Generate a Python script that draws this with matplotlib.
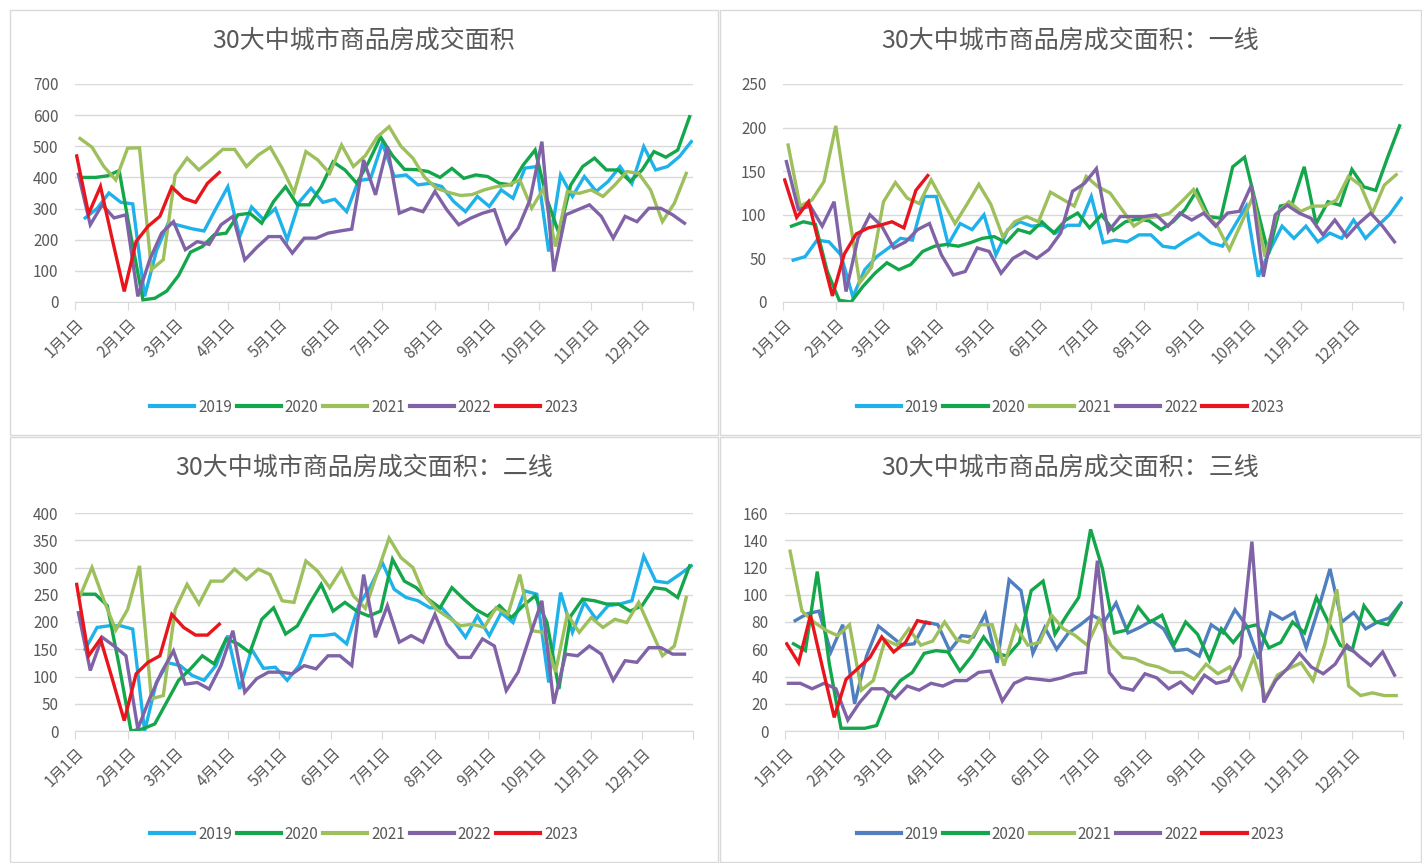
import matplotlib
matplotlib.use("Agg")
import matplotlib.pyplot as plt
from matplotlib.patches import Rectangle

plt.rcParams['font.family'] = ['Noto Sans CJK SC', 'DejaVu Sans']

years = ['2019', '2020', '2021', '2022', '2023']
# first weekly observation, day of year
start_day = [6, 5, 3, 2, 1]

month_days = [0, 31, 59, 90, 120, 151, 181, 212, 243, 273, 304, 334]
month_labels = ['1月1日', '2月1日', '3月1日', '4月1日', '5月1日', '6月1日',
                '7月1日', '8月1日', '9月1日', '10月1日', '11月1日', '12月1日']

titles = ['30大中城市商品房成交面积', '30大中城市商品房成交面积：一线',
          '30大中城市商品房成交面积：二线', '30大中城市商品房成交面积：三线']

# 全部
p1_2019 = [270, 300, 350, 320, 315, 18, 165, 255, 245, 235, 228, 300, 370, 210, 305, 265, 300, 200, 320, 365, 320, 330, 290, 390,
           395, 510, 403, 408, 376, 381, 371, 323, 290, 339, 307, 360, 333, 430, 435, 162, 408, 339, 403, 355, 387, 435, 380, 499, 424, 435, 467, 515]
p1_2020 = [400, 400, 405, 422, 210, 7, 12, 35, 85, 160, 178, 216, 221, 280, 285, 253, 323, 370, 312, 312, 370, 450, 424, 381,
           450, 530, 470, 426, 425, 419, 400, 429, 397, 408, 403, 381, 376, 440, 488, 330, 221, 376, 435, 462, 424, 424, 387, 424, 483, 465, 488, 595]
p1_2021 = [525, 497, 435, 392, 494, 495, 104, 136, 408, 462, 424, 456, 490, 490, 435, 472, 497, 430, 351, 483, 456, 413, 504, 435,
           470, 530, 563, 500, 462, 400, 365, 352, 342, 345, 360, 370, 375, 392, 301, 365, 178, 355, 349, 360, 339, 376, 419, 413, 360, 258, 317, 413]
p1_2022 = [410, 248, 312, 270, 280, 18, 136, 221, 258, 168, 194, 185, 248, 275, 135, 175, 210, 210, 157, 205, 205, 221, 228, 234, 456,
           344, 499, 285, 301, 290, 355, 296, 248, 269, 285, 296, 189, 237, 328, 515, 98, 280, 296, 312, 275, 205, 275, 258, 301, 301, 280, 253]
p1_2023 = [469, 283, 371, 200, 34, 194, 243, 275, 369, 333, 320, 381, 416]

# 一线
p2_2019 = [48, 52, 71, 69, 54, 6, 37, 52, 62, 73, 71, 121, 121, 66, 90, 83, 100, 54, 83, 92, 87, 88, 79, 88,
           88, 121, 68, 71, 69, 77, 77, 64, 62, 71, 79, 68, 64, 87, 110, 29, 60, 87, 73, 87, 69, 79, 73, 94, 73, 87, 100, 119]
p2_2020 = [87, 92, 89, 35, 2, 0, 18, 33, 45, 37, 43, 58, 64, 66, 64, 68, 73, 75, 68, 83, 79, 92, 79, 94,
           102, 85, 100, 82, 92, 95, 93, 83, 92, 106, 128, 98, 96, 155, 166, 110, 55, 110, 113, 155, 90, 115, 111, 152, 132, 128, 166, 202]
p2_2021 = [180, 110, 117, 138, 202, 110, 22, 40, 115, 137, 119, 113, 140, 115, 90, 112, 135, 112, 75, 92, 98, 92, 126, 118,
           110, 144, 132, 125, 106, 87, 96, 98, 102, 115, 129, 102, 87, 60, 90, 121, 52, 102, 115, 104, 110, 110, 117, 144, 134, 102, 134, 146]
p2_2022 = [161, 106, 110, 87, 115, 12, 73, 100, 87, 62, 69, 83, 90, 54, 31, 35, 62, 58, 33, 50, 58, 50, 60, 79,
           127, 136, 153, 81, 98, 98, 98, 100, 87, 102, 94, 102, 87, 102, 104, 134, 29, 100, 111, 102, 96, 77, 94, 75, 90, 102, 87, 69]
p2_2023 = [140, 97, 115, 60, 7, 55, 78, 85, 88, 92, 85, 128, 145]

# 二线
p3_2019 = [150, 190, 193, 193, 187, 0, 90, 125, 120, 102, 93, 120, 175, 77, 150, 115, 117, 93, 120, 175, 175, 178, 160, 230,
           265, 309, 260, 245, 239, 226, 226, 202, 172, 211, 175, 217, 199, 257, 251, 89, 254, 181, 236, 205, 230, 233, 239, 321, 275, 272, 287, 303]
p3_2020 = [251, 251, 230, 120, 0, 4, 13, 53, 93, 114, 138, 123, 169, 160, 144, 205, 226, 178, 193, 233, 269, 220, 236, 220,
           211, 220, 315, 275, 263, 242, 226, 263, 242, 223, 211, 230, 208, 230, 248, 199, 77, 211, 242, 239, 233, 233, 220, 230, 263, 260, 245, 303]
p3_2021 = [248, 300, 240, 185, 223, 303, 59, 65, 223, 269, 233, 275, 275, 297, 278, 297, 287, 239, 236, 312, 293, 263, 297, 248,
           225, 290, 354, 318, 300, 248, 223, 208, 193, 196, 190, 226, 214, 287, 184, 181, 108, 214, 181, 208, 190, 205, 199, 236, 187, 138, 156, 245]
p3_2022 = [217, 111, 172, 156, 138, 4, 60, 108, 147, 86, 89, 77, 120, 184, 71, 96, 108, 108, 105, 120, 114, 138, 138, 120, 287,
           172, 230, 163, 175, 163, 214, 160, 135, 135, 169, 156, 74, 108, 175, 239, 50, 141, 138, 156, 141, 93, 129, 126, 153, 153, 141, 141]
p3_2023 = [269, 138, 169, 95, 19, 105, 126, 138, 214, 190, 176, 176, 196]

# 三线
p4_2019 = [81, 86, 88, 58, 78, 20, 55, 77, 70, 63, 64, 80, 78, 59, 70, 69, 86, 50, 111, 103, 57, 76, 60, 72,
           78, 85, 80, 94, 72, 76, 81, 75, 59, 60, 55, 78, 72, 89, 77, 53, 87, 82, 87, 61, 89, 119, 80, 87, 75, 80, 83, 94]
p4_2020 = [64, 59, 117, 50, 2, 2, 2, 4, 26, 37, 43, 57, 59, 58, 44, 55, 69, 57, 55, 65, 103, 110, 71, 85,
           98, 148, 119, 72, 74, 91, 80, 85, 63, 80, 71, 52, 75, 65, 76, 78, 61, 65, 80, 72, 98, 80, 63, 59, 92, 80, 78, 92]
p4_2021 = [132, 88, 80, 74, 70, 78, 30, 37, 67, 63, 75, 63, 66, 80, 67, 65, 78, 78, 48, 77, 63, 65, 85, 75,
           70, 63, 82, 63, 54, 53, 49, 47, 43, 43, 38, 49, 42, 47, 31, 54, 24, 41, 46, 50, 37, 64, 104, 33, 26, 28, 26, 26]
p4_2022 = [35, 35, 31, 35, 31, 8, 21, 31, 31, 24, 33, 30, 35, 33, 37, 37, 43, 44, 22, 35, 39, 38, 37, 39, 42,
           43, 125, 43, 32, 30, 42, 39, 31, 36, 28, 41, 35, 37, 55, 139, 21, 37, 46, 57, 47, 42, 49, 63, 55, 48, 58, 41]
p4_2023 = [64, 50, 85, 47, 10, 38, 46, 54, 69, 58, 65, 81, 79]

panel_data = [
    [p1_2019, p1_2020, p1_2021, p1_2022, p1_2023],
    [p2_2019, p2_2020, p2_2021, p2_2022, p2_2023],
    [p3_2019, p3_2020, p3_2021, p3_2022, p3_2023],
    [p4_2019, p4_2020, p4_2021, p4_2022, p4_2023],
]
y_max = [700, 250, 400, 160]
y_step = [100, 50, 50, 20]

colors = ['#1fb1ea', '#13a64b', '#9dbf5c', '#8063a6', '#e8161c']
colors_p4 = ['#4f7fbf', '#13a64b', '#9dbf5c', '#8063a6', '#e8161c']
text_col = '#595959'

W, H = 1422, 863
fig = plt.figure(figsize=(W / 100, H / 100), dpi=100)
fig.patch.set_facecolor('white')

# panel frames (pixels: x0, y0, x1, y1 from top-left)
frames = [(10, 10, 718, 435), (720, 10, 1421, 435), (10, 437, 718, 862), (720, 437, 1421, 862)]
# plot areas (pixels: left, right, top, bottom)
areas = [(75, 693, 84, 302), (783, 1403, 84, 302), (75, 693, 513, 731), (785, 1403, 513, 731)]

for k in range(4):
    fx0, fy0, fx1, fy1 = frames[k]
    fig.patches.append(Rectangle((fx0 / W, 1 - fy1 / H), (fx1 - fx0) / W, (fy1 - fy0) / H,
                                 transform=fig.transFigure, fill=False, edgecolor='#d9d9d9', lw=1))

    l, r, t, b = areas[k]
    ax = fig.add_axes([l / W, 1 - b / H, (r - l) / W, (b - t) / H])
    cols = colors_p4 if k == 3 else colors
    for j, vals in enumerate(panel_data[k]):
        xs = [start_day[j] + 7 * i for i in range(len(vals))]
        ax.plot(xs, vals, color=cols[j], lw=2.4, label=years[j], solid_joinstyle='miter')

    ax.set_xlim(0, 364)
    ax.set_ylim(0, y_max[k])
    ax.set_yticks(range(0, y_max[k] + 1, y_step[k]))
    ax.yaxis.grid(True, color='#d9d9d9', lw=1)
    ax.set_axisbelow(True)
    for s in ['top', 'right', 'left']:
        ax.spines[s].set_visible(False)
    ax.spines['bottom'].set_color('#d9d9d9')
    ax.set_xticks(month_days + [364])
    ax.set_xticklabels(month_labels + [''], rotation=45, ha='right', rotation_mode='anchor')
    ax.tick_params(axis='x', length=6, color='#d9d9d9', labelsize=11, labelcolor=text_col, pad=4)
    ax.tick_params(axis='y', length=0, labelsize=11, labelcolor=text_col, pad=12)

    cx = (fx0 + fx1) / 2 / W
    fig.text(cx, 1 - (fy0 + 31) / H, titles[k], ha='center', va='center', fontsize=18, color=text_col)
    leg = ax.legend(loc='center', bbox_to_anchor=(cx, 1 - (fy0 + 397) / H), bbox_transform=fig.transFigure,
                    ncol=5, frameon=False, fontsize=11, handlelength=2.9, handletextpad=0.25,
                    columnspacing=0.3, labelcolor=text_col)
    for line in leg.get_lines():
        line.set_linewidth(3)

fig.savefig('out.png', dpi=100)
